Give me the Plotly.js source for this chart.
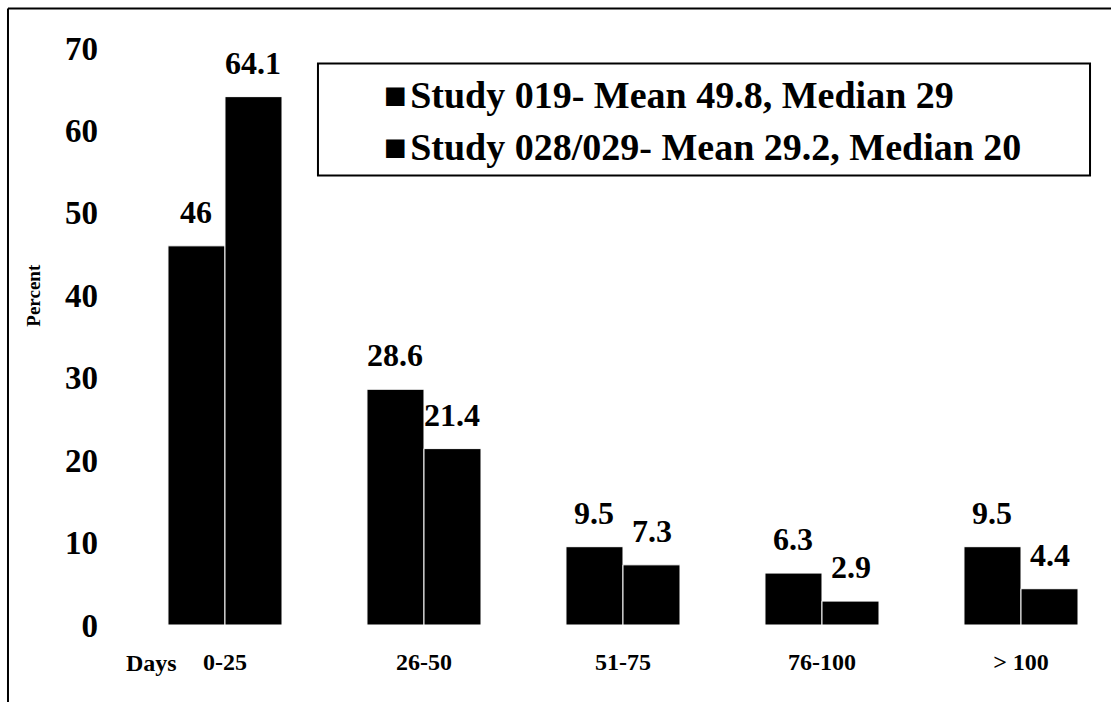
<!DOCTYPE html>
<html>
<head>
<meta charset="utf-8">
<script src="https://cdn.plot.ly/plotly-3.0.1.min.js"></script>
<style>html,body{margin:0;padding:0;background:#fff;}#chart{width:1111px;height:702px;}</style>
</head>
<body>
<div id="chart"></div>
<script>
const categories = ["0-25", "26-50", "51-75", "76-100", "> 100"];
const seriesNames = ["Study 019- Mean 49.8, Median 29", "Study 028/029- Mean 29.2, Median 20"];
const study019 = [46, 28.6, 9.5, 6.3, 9.5];
const study028 = [64.1, 21.4, 7.3, 2.9, 4.4];
const yTicks = [0, 10, 20, 30, 40, 50, 60, 70];

const FONT = '"Liberation Serif", "Times New Roman", Times, serif';
const bargap = 0.427;
const half = (1 - bargap) / 4;
const seriesValues = [study019, study028];

const traces = seriesValues.map((vals, i) => ({
  type: 'bar',
  x: categories,
  y: vals,
  name: seriesNames[i],
  marker: {color: '#000', line: {color: '#fff', width: 1}},
  showlegend: false,
  hoverinfo: 'x+y'
}));

const annotations = [];
seriesValues.forEach((vals, i) => {
  vals.forEach((v, j) => {
    annotations.push({
      x: j + (i === 0 ? -half : half), y: v, xref: 'x', yref: 'y',
      text: String(v), showarrow: false, yanchor: 'bottom', xanchor: 'center',
      yshift: 14,
      font: {family: FONT, size: 32, color: '#000', weight: 'bold'}
    });
  });
});
// custom legend entries
seriesNames.forEach((n, i) => {
  annotations.push({
    xref: 'paper', yref: 'paper', x: 0.2806, y: [0.918, 0.828][i],
    xanchor: 'left', yanchor: 'middle', showarrow: false,
    text: '\u25A0\u200A' + n,
    font: {family: FONT, size: 38, color: '#000', weight: 'bold'}
  });
});
annotations.push({
  xref: 'paper', yref: 'paper', x: 0.05, y: -0.066, xanchor: 'center', yanchor: 'middle',
  showarrow: false, text: 'Days',
  font: {family: FONT, size: 24, color: '#000', weight: 'bold'}
});
annotations.push({
  xref: 'paper', yref: 'paper', x: -0.069, y: 0.571, xanchor: 'center', yanchor: 'middle',
  showarrow: false, text: 'Percent', textangle: -90,
  font: {family: FONT, size: 19, color: '#000', weight: 'bold'}
});

const layout = {
  width: 1111, height: 702,
  margin: {l: 102, r: 11, t: 47.5, b: 77, pad: 0},
  paper_bgcolor: '#fff', plot_bgcolor: '#fff',
  barmode: 'group', bargap: bargap, bargroupgap: 0,
  font: {family: FONT, color: '#000'},
  xaxis: {
    type: 'category', range: [-0.618, 4.397],
    showgrid: false, zeroline: false, showline: false, ticks: '',
    ticklabelstandoff: 20,
    tickfont: {family: FONT, size: 24, color: '#000', weight: 'bold'}
  },
  yaxis: {
    range: [0, 70], tickvals: yTicks, ticktext: yTicks.map(String),
    showgrid: false, zeroline: false, showline: false, ticks: '',
    ticklabelstandoff: 3,
    tickfont: {family: FONT, size: 33, color: '#000', weight: 'bold'}
  },
  shapes: [
    {type: 'rect', xref: 'paper', yref: 'paper', x0: 0.2164, x1: 0.99, y0: 0.779, y1: 0.973,
     line: {color: '#000', width: 2}, fillcolor: 'rgba(0,0,0,0)'},
    {type: 'line', xref: 'paper', yref: 'paper', x0: -0.0942, x1: 1.1, y0: 1.0684, y1: 1.0684,
     line: {color: '#000', width: 2}},
    {type: 'line', xref: 'paper', yref: 'paper', x0: -0.0942, x1: -0.0942, y0: 1.0684, y1: -0.2,
     line: {color: '#000', width: 2}}
  ],
  annotations: annotations
};

Plotly.newPlot('chart', traces, layout, {displayModeBar: false, staticPlot: true});
</script>
</body>
</html>
